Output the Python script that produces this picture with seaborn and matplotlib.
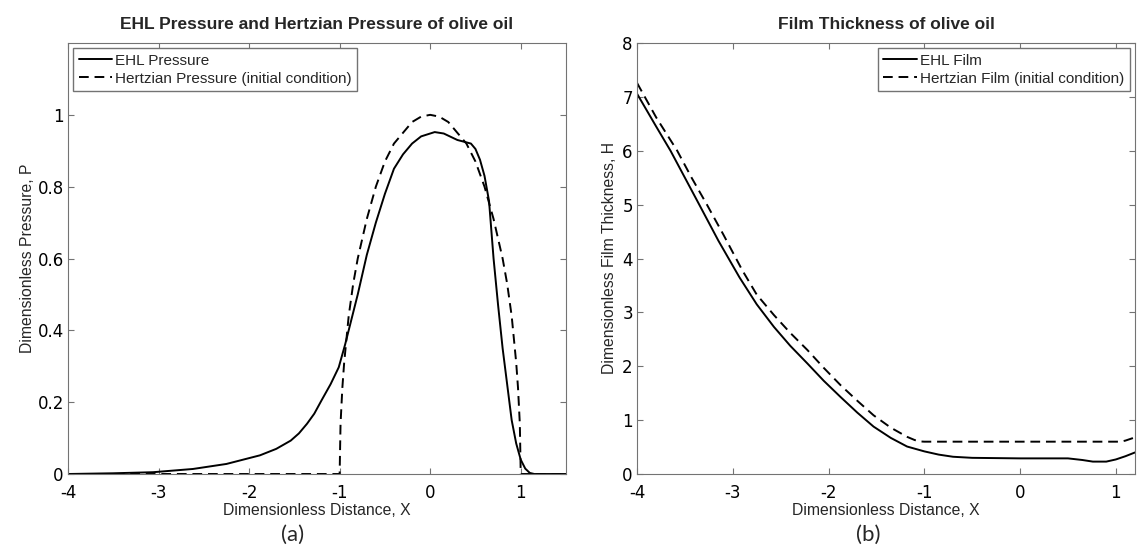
import numpy as np
import pandas as pd
import seaborn as sns
import matplotlib.pyplot as plt

sns.set_style("ticks")
EDGE = "0.45"
TXT = ["Liberation Sans", "DejaVu Sans"]
plt.rcParams["font.family"] = TXT
plt.rcParams["axes.edgecolor"] = EDGE
plt.rcParams["xtick.color"] = EDGE
plt.rcParams["ytick.color"] = EDGE
plt.rcParams["xtick.labelcolor"] = "black"
plt.rcParams["ytick.labelcolor"] = "black"

# (a) pressure
x_ehl_p = [-4.0, -3.5, -3.06, -2.62, -2.25, -1.88, -1.7, -1.54, -1.45, -1.36,
           -1.28, -1.2, -1.1, -1.01, -0.94, -0.9, -0.8, -0.7, -0.6, -0.5, -0.4,
           -0.3, -0.2, -0.1, 0.05, 0.15, 0.3, 0.45, 0.5, 0.55, 0.6, 0.65, 0.7,
           0.75, 0.8, 0.85, 0.9, 0.95, 1.0, 1.05, 1.1, 1.15, 1.5]
p_ehl = [0.0, 0.002, 0.005, 0.014, 0.028, 0.052, 0.07, 0.093, 0.113, 0.14,
         0.168, 0.205, 0.25, 0.297, 0.36, 0.4, 0.5, 0.61, 0.70, 0.78, 0.85,
         0.89, 0.92, 0.94, 0.952, 0.948, 0.93, 0.92, 0.905, 0.875, 0.83, 0.76, 0.6,
         0.47, 0.35, 0.25, 0.15, 0.085, 0.04, 0.015, 0.003, 0.0, 0.0]

x_hertz_p = [-4.0, -1.0, -0.99, -0.97, -0.95, -0.9, -0.85, -0.8, -0.7, -0.6, -0.5,
             -0.4, -0.3, -0.2, -0.1, 0.0, 0.1, 0.2, 0.3, 0.4, 0.5, 0.6, 0.7,
             0.8, 0.85, 0.9, 0.95, 0.97, 0.99, 1.0, 1.5]
p_hertz = [0.0, 0.0, 0.14, 0.24, 0.31, 0.44, 0.53, 0.6, 0.71, 0.8, 0.87,
           0.92, 0.95, 0.98, 0.995, 1.0, 0.995, 0.98, 0.95, 0.92, 0.87, 0.8, 0.71,
           0.6, 0.53, 0.44, 0.31, 0.24, 0.14, 0.0, 0.0]

# (b) film thickness
x_ehl_h = [-4.0, -3.8, -3.65, -3.5, -3.35, -3.15, -2.93, -2.75, -2.57, -2.4,
           -2.22, -2.05, -1.875, -1.7, -1.53, -1.35, -1.18, -1.0, -0.85, -0.7,
           -0.5, 0.0, 0.5, 0.65, 0.76, 0.9, 1.0, 1.1, 1.2]
h_ehl = [7.06, 6.45, 6.0, 5.5, 5.0, 4.33, 3.65, 3.15, 2.73, 2.38,
         2.05, 1.73, 1.43, 1.14, 0.88, 0.67, 0.51, 0.42, 0.36, 0.32,
         0.30, 0.29, 0.29, 0.26, 0.23, 0.23, 0.27, 0.33, 0.40]

x_hertz_h = [-4.0, -3.8, -3.58, -3.43, -3.27, -3.1, -2.9, -2.75, -2.57, -2.4,
             -2.22, -2.05, -1.875, -1.7, -1.53, -1.35, -1.18, -1.1, -1.05, -1.0,
             0.0, 1.0, 1.05, 1.1, 1.2]
h_hertz = [7.26, 6.62, 6.0, 5.5, 5.0, 4.45, 3.78, 3.33, 2.95, 2.62,
           2.30, 1.97, 1.65, 1.36, 1.09, 0.86, 0.69, 0.63, 0.605, 0.60,
           0.60, 0.60, 0.60, 0.62, 0.68]

x_ticks = [-4, -3, -2, -1, 0, 1]
p_ticks = [0, 0.2, 0.4, 0.6, 0.8, 1.0]
p_tick_labels = ["0", "0.2", "0.4", "0.6", "0.8", "1"]
h_ticks = list(range(0, 9))

DASH = (0, (5, 3))
LW = 1.4


def style_axes(ax):
    ax.tick_params(direction="in", top=True, right=True, length=4, width=0.8,
                   labelsize=12)
    ax.tick_params(axis="x", pad=7)
    ax.tick_params(axis="y", pad=3)
    for t in ax.get_xticklabels() + ax.get_yticklabels():
        t.set_family("DejaVu Sans")
    for s in ax.spines.values():
        s.set_linewidth(0.8)
        s.set_color(EDGE)


def legend(ax, loc):
    ax.legend(loc=loc, fontsize=11, frameon=True, fancybox=False,
              edgecolor=EDGE, framealpha=1, handlelength=2.2, handletextpad=0.2,
              labelspacing=0.25, borderpad=0.35, borderaxespad=0.35)


fig = plt.figure(figsize=(11.37, 5.50), dpi=100)
ax1 = fig.add_axes([68 / 1137, 76 / 550, 498 / 1137, 431 / 550])
ax2 = fig.add_axes([637 / 1137, 76 / 550, 498 / 1137, 431 / 550])

sns.lineplot(x=x_ehl_p, y=p_ehl, ax=ax1, color="black", lw=LW,
             estimator=None, sort=False, label="EHL Pressure")
sns.lineplot(x=x_hertz_p, y=p_hertz, ax=ax1, color="black", lw=LW,
             linestyle=DASH, estimator=None, sort=False,
             label="Hertzian Pressure (initial condition)")
ax1.set_xlim(-4, 1.5)
ax1.set_ylim(0, 1.2)
ax1.set_yticks(p_ticks)
ax1.set_yticklabels(p_tick_labels)
ax1.set_xticks(x_ticks)
ax1.set_xticklabels([str(v) for v in x_ticks])
ax1.set_title("EHL Pressure and Hertzian Pressure of olive oil",
              fontsize=12.5, fontweight="bold", pad=10)
ax1.set_xlabel("Dimensionless Distance, X", fontsize=11.3, labelpad=1)
ax1.set_ylabel("Dimensionless Pressure, P", fontsize=11.3, labelpad=2)
style_axes(ax1)
legend(ax1, "upper left")

sns.lineplot(x=x_ehl_h, y=h_ehl, ax=ax2, color="black", lw=LW,
             estimator=None, sort=False, label="EHL Film")
sns.lineplot(x=x_hertz_h, y=h_hertz, ax=ax2, color="black", lw=LW,
             linestyle=DASH, estimator=None, sort=False,
             label="Hertzian Film (initial condition)")
ax2.set_xlim(-4, 1.2)
ax2.set_ylim(0, 8)
ax2.set_yticks(h_ticks)
ax2.set_xticks(x_ticks)
ax2.set_xticklabels([str(v) for v in x_ticks])
ax2.set_title("Film Thickness of olive oil", fontsize=12.5, fontweight="bold", pad=10)
ax2.set_xlabel("Dimensionless Distance, X", fontsize=11.3, labelpad=1)
ax2.set_ylabel("Dimensionless Film Thickness, H", fontsize=11.3, labelpad=4)
style_axes(ax2)
legend(ax2, "upper right")

fig.text(293 / 1137, 1 - 535 / 550, "(a)", ha="center", va="center",
         fontsize=16, family=["Lato", "DejaVu Sans"])
fig.text(868 / 1137, 1 - 535 / 550, "(b)", ha="center", va="center",
         fontsize=16, family=["Lato", "DejaVu Sans"])

fig.savefig("out.png", dpi=100)
